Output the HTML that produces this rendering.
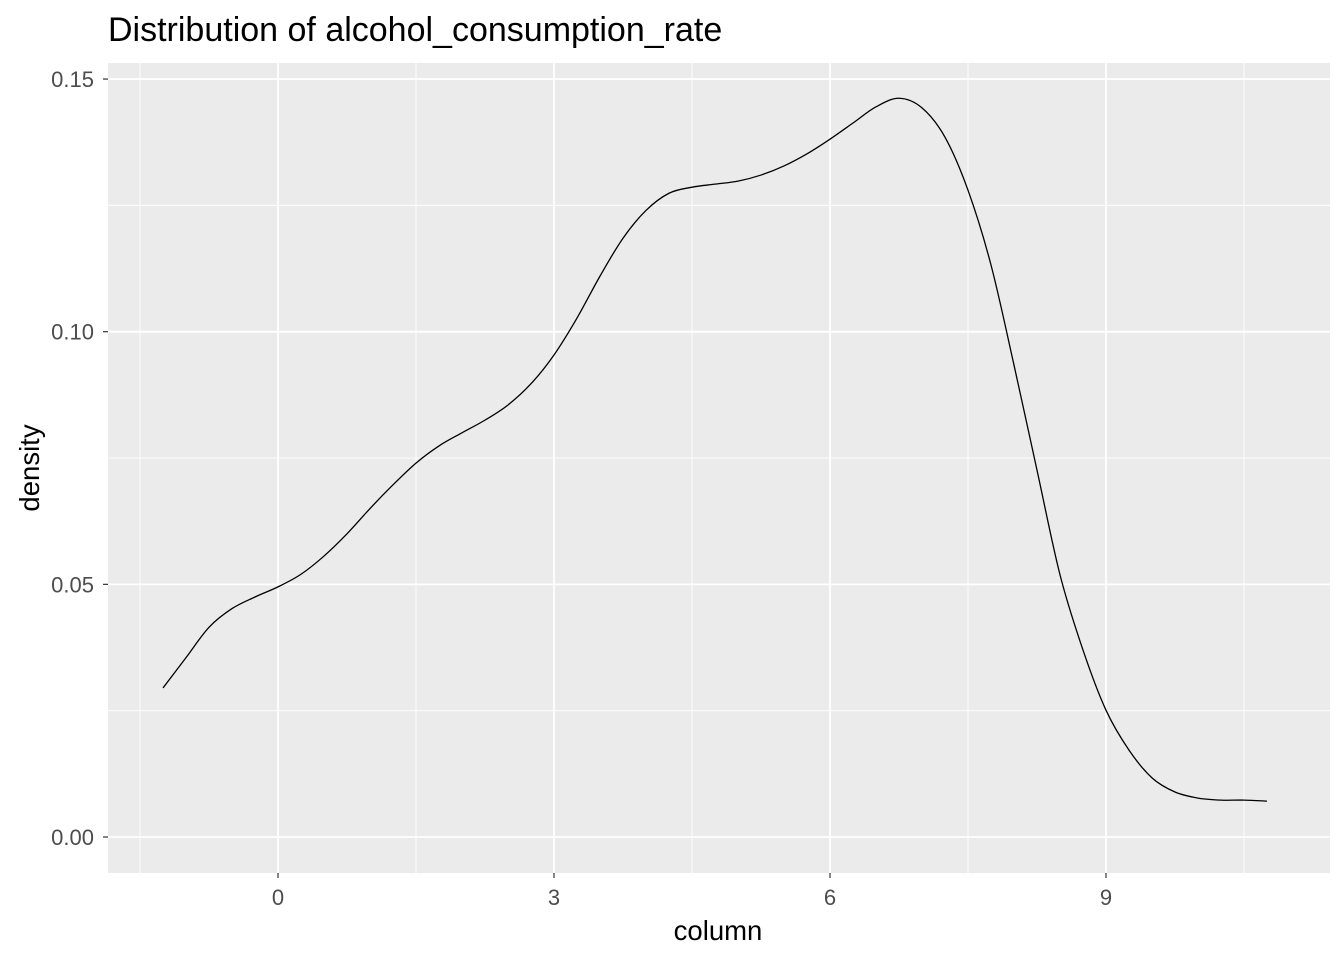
<!DOCTYPE html>
<html><head><meta charset="utf-8">
<style>
body{margin:0;background:#fff;}
svg{display:block;font-family:"Liberation Sans",Arial,sans-serif;}
</style></head>
<body>
<svg id="chart" width="1344" height="960" viewBox="0 0 1344 960">
<rect x="0" y="0" width="1344" height="960" fill="#fff"/>
<text x="108" y="41" font-size="34" fill="#000">Distribution of alcohol_consumption_rate</text>
<rect x="108" y="63" width="1222" height="810" fill="#EBEBEB"/>
<g id="grid"></g>
<path id="curve" fill="none" stroke="#000" stroke-width="1.3"/>
<g id="axes"></g>
<text x="718" y="940" font-size="27.5" text-anchor="middle" fill="#000">column</text>
<text transform="translate(39,468) rotate(-90)" font-size="27.5" text-anchor="middle" fill="#000">density</text>
</svg>
<script>
const xs=[-1.25,-1,-0.75,-0.5,-0.25,0,0.25,0.5,0.75,1,1.25,1.5,1.75,2,2.25,2.5,2.75,3,3.25,3.5,3.75,4,4.25,4.5,4.75,5,5.25,5.5,5.75,6,6.25,6.5,6.75,7,7.25,7.5,7.75,8,8.25,8.5,8.75,9,9.25,9.5,9.75,10,10.25,10.5,10.75];
const ys=[0.0295,0.0355,0.0415,0.0452,0.0475,0.0495,0.052,0.0556,0.060,0.065,0.0697,0.074,0.0774,0.080,0.0825,0.0855,0.0897,0.0954,0.1027,0.111,0.1185,0.124,0.1274,0.1286,0.1292,0.1298,0.131,0.1328,0.1352,0.1381,0.1413,0.1445,0.1462,0.1443,0.1385,0.128,0.1132,0.0934,0.0726,0.0519,0.037,0.0251,0.0172,0.0117,0.0089,0.0077,0.0073,0.0073,0.0071];
const xTicks=[0,3,6,9];
const xMinor=[-1.5,1.5,4.5,7.5,10.5];
const yTicks=[0,0.05,0.10,0.15];
const yTickLabels=["0.00","0.05","0.10","0.15"];
const yMinor=[0.025,0.075,0.125];

const X=v=>278+v*92;
const Y=v=>837-v*5053;
const NS="http://www.w3.org/2000/svg";
const grid=document.getElementById('grid'), axes=document.getElementById('axes');
function line(p,x1,y1,x2,y2,c,w,name){const l=document.createElementNS(NS,'line');
l.setAttribute('x1',x1);l.setAttribute('y1',y1);l.setAttribute('x2',x2);l.setAttribute('y2',y2);
l.setAttribute('stroke',c);l.setAttribute('stroke-width',w);


p.appendChild(l);}
function text(p,x,y,s,anchor,name){const t=document.createElementNS(NS,'text');
t.setAttribute('x',x);t.setAttribute('y',y);t.setAttribute('font-size','22');t.setAttribute('fill','#4D4D4D');t.setAttribute('text-anchor',anchor);t.textContent=s;


p.appendChild(t);}
xMinor.forEach(v=>line(grid,X(v),63,X(v),873,'#fff',0.9,'x-minor-gridline'));
yMinor.forEach(v=>line(grid,108,Y(v),1330,Y(v),'#fff',0.9,'y-minor-gridline'));
xTicks.forEach(v=>{line(grid,X(v),63,X(v),873,'#fff',1.8,'x-major-gridline');
 line(axes,X(v),873,X(v),878,'#333',1.2,'x-tick');
 text(axes,X(v),905,String(v),'middle','x-tick-label');});
yTicks.forEach((v,i)=>{line(grid,108,Y(v),1330,Y(v),'#fff',1.8,'y-major-gridline');
 line(axes,103,Y(v),108,Y(v),'#333',1.2,'y-tick');
 text(axes,94,Y(v)+8,yTickLabels[i],'end','y-tick-label');});
const pts=xs.map((x,i)=>[X(x),Y(ys[i])]);
let d='M'+pts[0][0]+','+pts[0][1];
for(let i=0;i<pts.length-1;i++){const p0=pts[i-1]||pts[i],p1=pts[i],p2=pts[i+1],p3=pts[i+2]||p2;
 d+=' C'+(p1[0]+(p2[0]-p0[0])/6)+','+(p1[1]+(p2[1]-p0[1])/6)+' '+(p2[0]-(p3[0]-p1[0])/6)+','+(p2[1]-(p3[1]-p1[1])/6)+' '+p2[0]+','+p2[1];}
document.getElementById('curve').setAttribute('d',d);
</script>
</body></html>
